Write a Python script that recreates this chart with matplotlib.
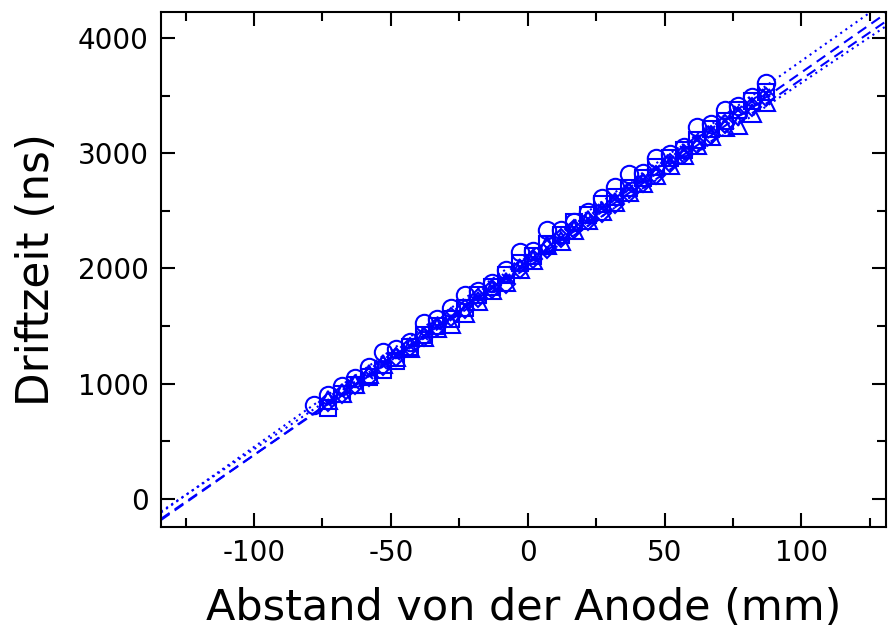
import matplotlib
matplotlib.use('Agg')
import matplotlib.pyplot as plt
from matplotlib.ticker import MultipleLocator
import numpy as np

plt.rcParams['axes.unicode_minus'] = False

# distance from anode (mm)
x_circ = [-78, -73, -68, -63, -58, -53, -48, -43, -38, -33, -28, -23, -18, -13, -8, -3, 2,
          7, 12, 17, 22, 27, 32, 37, 42, 47, 52, 57, 62, 67, 72, 77, 82, 87]
y_circ = [816, 902, 980, 1050, 1145, 1275, 1300, 1362, 1527, 1560, 1657, 1770, 1800, 1874,
          1987, 2143, 2150, 2334, 2330, 2403, 2490, 2612, 2707, 2820, 2830, 2959, 2990, 3054,
          3228, 3250, 3375, 3410, 3488, 3609]

x_rest = [-73, -68, -63, -58, -53, -48, -43, -38, -33, -28, -23, -18, -13, -8, -3, 2,
          7, 12, 17, 22, 27, 32, 37, 42, 47, 52, 57, 62, 67, 72, 77, 82, 87]
y_sq = [790, 905, 985, 1060, 1120, 1200, 1320, 1420, 1500, 1560, 1660, 1770, 1840, 1940,
        2050, 2110, 2210, 2290, 2400, 2460, 2560, 2620, 2700, 2780, 2880, 2960, 3030, 3110,
        3210, 3280, 3375, 3450, 3531]
y_tri = [860, 920, 1000, 1080, 1170, 1230, 1310, 1400, 1480, 1520, 1610, 1720, 1810, 1880,
         1990, 2070, 2200, 2240, 2330, 2420, 2500, 2580, 2660, 2740, 2810, 2900, 2980, 3070,
         3150, 3230, 3245, 3349, 3445]
y_dia = [840, 910, 990, 1060, 1150, 1230, 1320, 1400, 1490, 1580, 1650, 1740, 1820, 1860,
         1990, 2080, 2170, 2260, 2340, 2410, 2480, 2560, 2650, 2740, 2810, 2910, 2990, 3080,
         3160, 3250, 3320, 3400, 3490]
y_x = [830, 900, 990, 1070, 1160, 1240, 1330, 1410, 1500, 1580, 1670, 1750, 1840, 1920,
       2010, 2090, 2180, 2260, 2350, 2430, 2520, 2600, 2690, 2770, 2860, 2940, 3030, 3110,
       3200, 3280, 3370, 3450, 3520]

# linear fits: slope (ns/mm), intercept (ns)
fit_slope = [16.75, 16.6, 16.3, 15.9]
fit_icpt = [2125, 2040, 2010, 2020]
fit_style = [(0, (1, 2)), (0, (5, 3)), (0, (5, 3)), (0, (1, 2))]

blue = '#0000ff'
fig = plt.figure(figsize=(8.88, 6.30), dpi=100)
ax = fig.add_axes([0.1813, 0.1635, 0.8167, 0.8175])

xl = np.array([-134, 131])
for s, b, ls in zip(fit_slope, fit_icpt, fit_style):
    ax.plot(xl, s * xl + b, ls=ls, color=blue, lw=1.5)

mk = dict(color=blue, ls='none', mfc='none', mec=blue, mew=1.5)
ax.plot(x_circ, y_circ, marker='o', ms=12.5, **mk)
ax.plot(x_rest, y_sq, marker='s', ms=11.5, **mk)
ax.plot(x_rest, y_tri, marker='^', ms=13, **mk)
ax.plot(x_rest, y_dia, marker='D', ms=9, **mk)
ax.plot(x_rest, y_x, marker='x', ms=6, **mk)

ax.set_xlim(-134, 131)
ax.set_ylim(-245, 4225)
ax.xaxis.set_major_locator(MultipleLocator(50))
ax.xaxis.set_minor_locator(MultipleLocator(25))
ax.yaxis.set_major_locator(MultipleLocator(1000))
ax.yaxis.set_minor_locator(MultipleLocator(500))
ax.tick_params(which='both', direction='in', top=True, right=True, width=1.5,
               labelsize=20, pad=9)
ax.tick_params(which='major', length=10)
ax.tick_params(which='minor', length=6.5)
for sp in ax.spines.values():
    sp.set_linewidth(1.5)

ax.set_xlabel('Abstand von der Anode (mm)', fontsize=31, labelpad=14)
ax.set_ylabel('Driftzeit (ns)', fontsize=31.5, labelpad=14)

fig.savefig('out.png', dpi=100)
